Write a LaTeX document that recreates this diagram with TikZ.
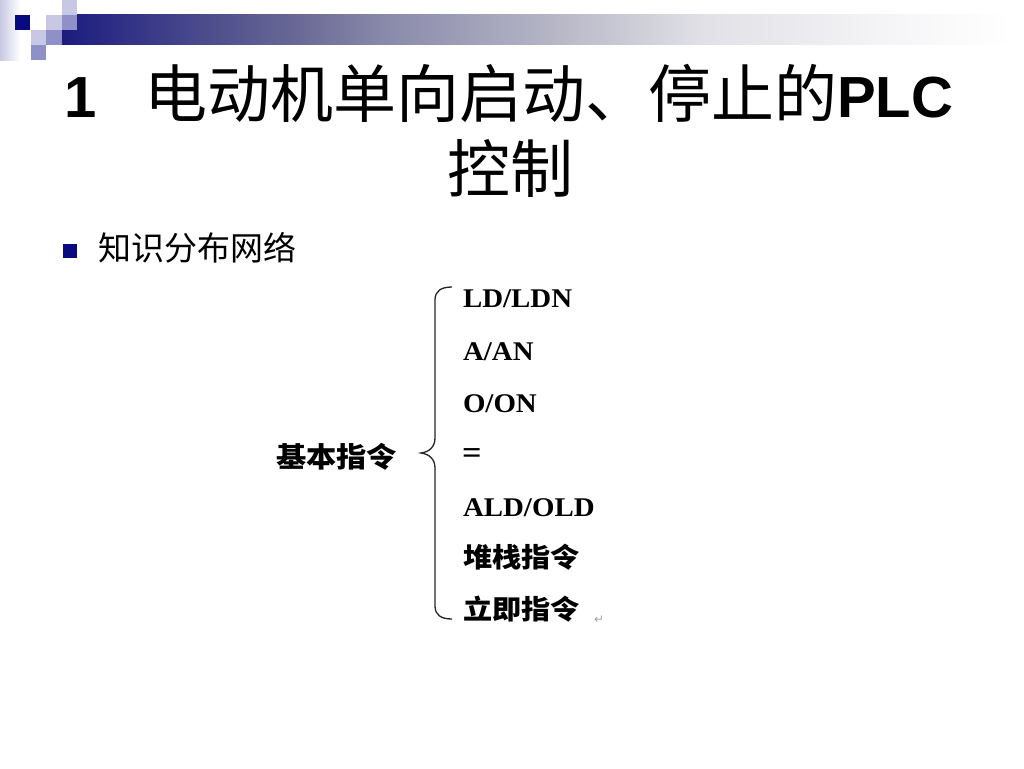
\documentclass[tikz,border=0pt]{standalone}
\usepackage{fontspec}
\setmainfont{Liberation Serif}
\newfontfamily\lsans{Liberation Sans}
\newfontfamily\cjk{Noto Sans CJK SC}
\newfontfamily\cjkwide[FakeStretch=1.08]{Noto Sans CJK SC}
\newfontfamily\itemfont[FakeStretch=1.07]{Liberation Serif}
\newfontfamily\dejavu{DejaVu Sans}
\definecolor{navyd}{HTML}{0A0A80}
\definecolor{sqlight}{HTML}{C8C8E4}
\definecolor{sqmid}{HTML}{9090C8}
\definecolor{barA}{HTML}{1C1C80}
\definecolor{barB}{HTML}{4A4A8C}
\definecolor{barC}{HTML}{6A6A96}
\definecolor{barD}{HTML}{8888AA}
\definecolor{barE}{HTML}{B8B8C8}
\definecolor{barF}{HTML}{E0E0E6}
\definecolor{barG}{HTML}{F6F6F8}
\tikzset{
  txt/.style={inner sep=0pt, outer sep=0pt, anchor=base west},
  item/.style={txt, font=\itemfont\bfseries\fontsize{27}{30}\selectfont},
  itemcjk/.style={txt, font=\cjkwide\bfseries\fontsize{27}{30}\selectfont},
  bracestyle/.style={draw=black!85, line width=1.3pt}
}
\begin{document}
\begin{tikzpicture}[x=1pt,y=-1pt]
\useasboundingbox (0,0) rectangle (1024,768);
\fill[white] (0,0) rectangle (1024,768);
% left faint strip
\shade[left color=sqlight, right color=white, draw=none] (0,0) rectangle (20,60);
% gradient bar
\shade[left color=barA, right color=barB] (62,15) rectangle (200.5,45);
\shade[left color=barB, right color=barC] (200,15) rectangle (300.5,45);
\shade[left color=barC, right color=barD] (300,15) rectangle (380.5,45);
\shade[left color=barD, right color=barE] (380,15) rectangle (560.5,45);
\shade[left color=barE, right color=barF] (560,15) rectangle (700.5,45);
\shade[left color=barF, right color=barG] (700,15) rectangle (900.5,45);
\shade[left color=barG, right color=white] (900,15) rectangle (1012,45);
% squares
\fill[navyd] (15,15) rectangle (30,30);
\fill[sqlight] (46,15) rectangle (62,30);
\fill[sqmid] (62,15) rectangle (77,30);
\fill[sqlight] (62,0) rectangle (77,15);
\fill[sqlight] (31,30) rectangle (46,45);
\fill[sqmid] (46,30) rectangle (62,45);
\fill[sqmid] (31,45) rectangle (46,60);
% title
\node[txt] (t1) at (64,117) {{\lsans\bfseries\fontsize{58}{60}\selectfont 1}\hspace{48pt}{\cjk\fontsize{63}{66}\selectfont 电动机单向启动、停止的}{\lsans\bfseries\fontsize{58}{60}\selectfont PLC}};
\node[txt] (t2) at (447,192) {\cjk\fontsize{63}{66}\selectfont 控制};
% bullet
\fill[navyd] (63,244) rectangle (77,258);
\node[txt] (b1) at (98,260) {\cjk\fontsize{33}{36}\selectfont 知识分布网络};
% root
\node[txt] (root) at (276,467) {\cjkwide\bfseries\fontsize{28}{31}\selectfont 基本指令};
% brace
\coordinate (btop) at (452,287);
\coordinate (btip) at (421,453);
\coordinate (bbot) at (452,619);
\draw[bracestyle] (btop) .. controls (441,287) and (435,291) .. (435,300) -- (435,438)
  .. controls (435,447) and (429,452) .. (btip)
  .. controls (429,454) and (435,459) .. (435,468) -- (435,606)
  .. controls (435,615) and (441,619) .. (bbot);
% items
\node[item] (i1) at (463,307) {LD/LDN};
\node[item] (i2) at (463,360) {A/AN};
\node[item] (i3) at (463,412) {O/ON};
\node[txt, font=\itemfont\bfseries\fontsize{32}{34}\selectfont] (i4) at (462,463) {=};
\node[item] (i5) at (463,516) {ALD/OLD};
\node[itemcjk] (i6) at (463,567) {堆栈指令};
\node[itemcjk] (i7) at (463,619) {立即指令};
\node[txt, text=black!35] (ret) at (594,623) {\dejavu\fontsize{12}{14}\selectfont ↵};
\end{tikzpicture}
\end{document}
